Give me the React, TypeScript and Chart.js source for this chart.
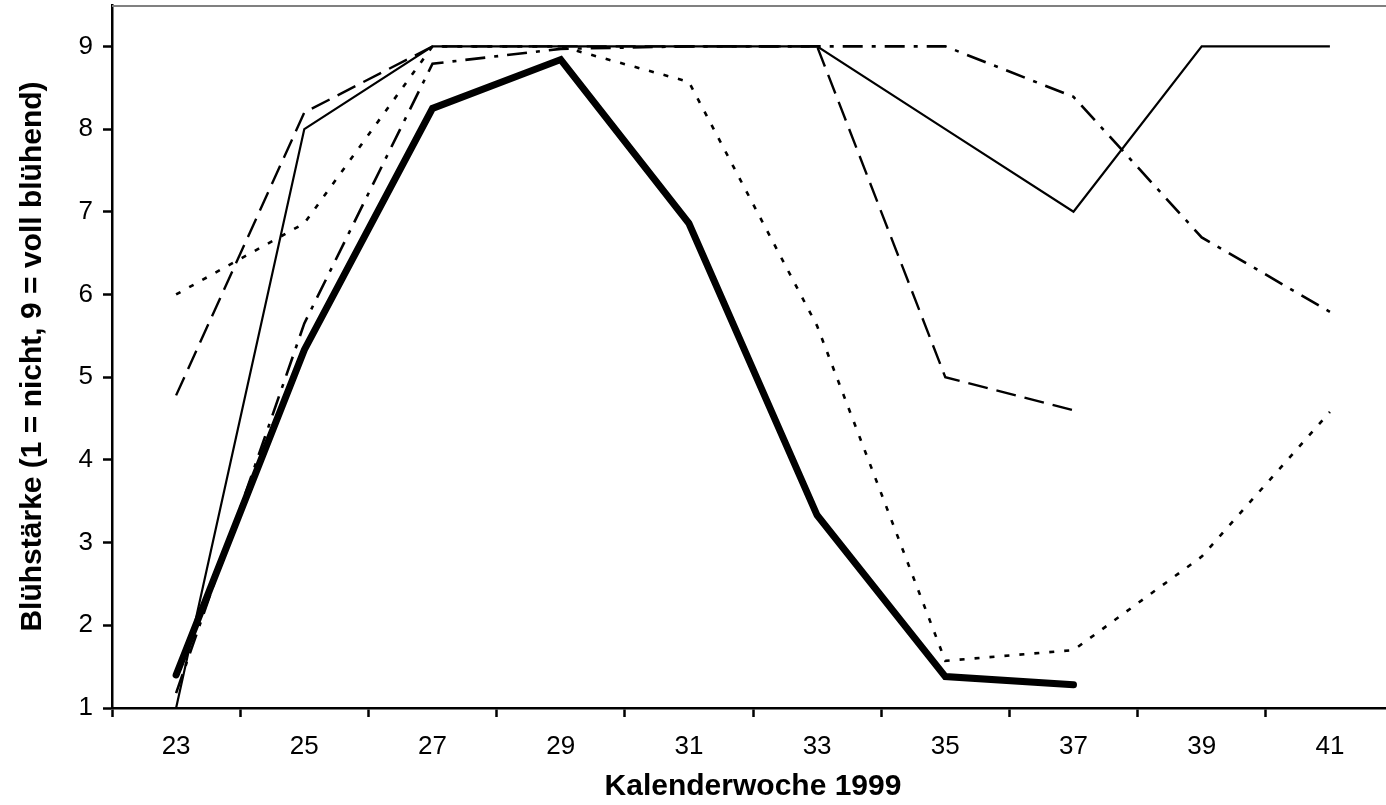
import React, { useEffect, useRef } from 'react';
import { Chart, registerables } from 'chart.js';

Chart.register(...registerables);

const weeks = ['23', '25', '27', '29', '31', '33', '35', '37', '39', '41'];
const seriesThick = [1.4, 5.33, 8.25, 8.84, 6.86, 3.33, 1.38, 1.28, null, null];
const seriesSolid = [1.0, 8.0, 9, 9, 9, 9, 8.0, 7.0, 9, 9];
const seriesDashed = [4.78, 8.2, 9, 9, 9, 9, 5.0, 4.6, null, null];
const seriesDotted = [6.0, 6.86, 9.0, 9.0, 8.57, 5.62, 1.57, 1.7, 2.83, 4.58];
const seriesDashDot = [1.18, 5.65, 8.79, 8.97, 9, 9, 9, 8.39, 6.69, 5.79];
const yMin = 1;
const yMax = 9.5;

const xTitle = 'Kalenderwoche 1999';
const yTitle = 'Blühstärke (1 = nicht, 9 = voll blühend)';

const FONT = '"Liberation Sans", Arial, Helvetica, sans-serif';

const topBorder = {
  id: 'topBorder',
  afterDraw(chart: any) {
    const { ctx, chartArea } = chart;
    ctx.save();
    ctx.strokeStyle = '#808080';
    ctx.lineWidth = 2;
    ctx.beginPath();
    ctx.moveTo(chartArea.left, chartArea.top + 1);
    ctx.lineTo(chartArea.right, chartArea.top + 1);
    ctx.stroke();
    ctx.restore();
  },
};

export default function App() {
  const ref = useRef<HTMLCanvasElement | null>(null);

  useEffect(() => {
    if (!ref.current) return;
    const base = {
      borderColor: '#000000',
      backgroundColor: '#000000',
      pointRadius: 0,
      pointHoverRadius: 0,
      tension: 0,
      fill: false,
      spanGaps: false,
    };
    const chart = new Chart(ref.current, {
      type: 'line',
      data: {
        labels: weeks,
        datasets: [
          { ...base, label: 'A', data: seriesThick, borderWidth: 7, borderCapStyle: 'round', borderJoinStyle: 'miter' },
          { ...base, label: 'B', data: seriesSolid, borderWidth: 2.2 },
          { ...base, label: 'C', data: seriesDashed, borderWidth: 2.4, borderDash: [20, 9] },
          { ...base, label: 'D', data: seriesDotted, borderWidth: 2.6, borderDash: [5, 10] },
          { ...base, label: 'E', data: seriesDashDot, borderWidth: 2.6, borderDash: [20, 9, 4, 9] },
        ] as any,
      },
      options: {
        animation: false,
        responsive: false,
        maintainAspectRatio: false,
        devicePixelRatio: 1,
        layout: { padding: { top: 5, right: 2, left: 0, bottom: 0 } },
        plugins: {
          legend: { display: false },
          tooltip: { enabled: false },
          title: { display: false },
        },
        scales: {
          x: {
            type: 'category',
            offset: true,
            afterFit: (scale: any) => {
              scale.height = 97;
              scale.paddingLeft = 0;
              scale.paddingRight = 0;
            },
            grid: {
              display: true,
              offset: true,
              drawOnChartArea: false,
              drawTicks: true,
              tickLength: 9,
              tickColor: '#000000',
              tickWidth: 2.5,
            },
            border: { display: true, color: '#000000', width: 2.5 },
            ticks: {
              color: '#000000',
              font: { family: FONT, size: 26 },
              padding: 14,
              maxRotation: 0,
              autoSkip: false,
            },
            title: {
              display: true,
              text: xTitle,
              color: '#000000',
              font: { family: FONT, size: 30, weight: 'bold' },
              padding: { top: 0, bottom: 0 },
            },
          },
          y: {
            type: 'linear',
            min: yMin,
            max: yMax,
            afterFit: (scale: any) => {
              scale.width = 112;
              scale.paddingTop = 0;
              scale.paddingBottom = 0;
            },
            afterBuildTicks: (scale: any) => {
              scale.ticks = scale.ticks.filter((t: any) => Number.isInteger(t.value));
            },
            grid: {
              display: true,
              drawOnChartArea: false,
              drawTicks: true,
              tickLength: 9,
              tickColor: '#000000',
              tickWidth: 2.5,
            },
            border: { display: true, color: '#000000', width: 2.5 },
            ticks: {
              stepSize: 1,
              color: '#000000',
              font: { family: FONT, size: 26 },
              padding: 10,
            },
            title: {
              display: true,
              text: yTitle,
              color: '#000000',
              font: { family: FONT, size: 30, weight: 'bold' },
              padding: { top: 15, bottom: 0 },
            },
          },
        },
      } as any,
      plugins: [topBorder],
    });
    return () => chart.destroy();
  }, []);

  return (
    <div style={{ position: 'fixed', left: 0, top: 0, width: 1396, height: 805, background: '#ffffff' }}>
      <canvas ref={ref} width={1396} height={805} style={{ display: 'block' }} />
    </div>
  );
}
